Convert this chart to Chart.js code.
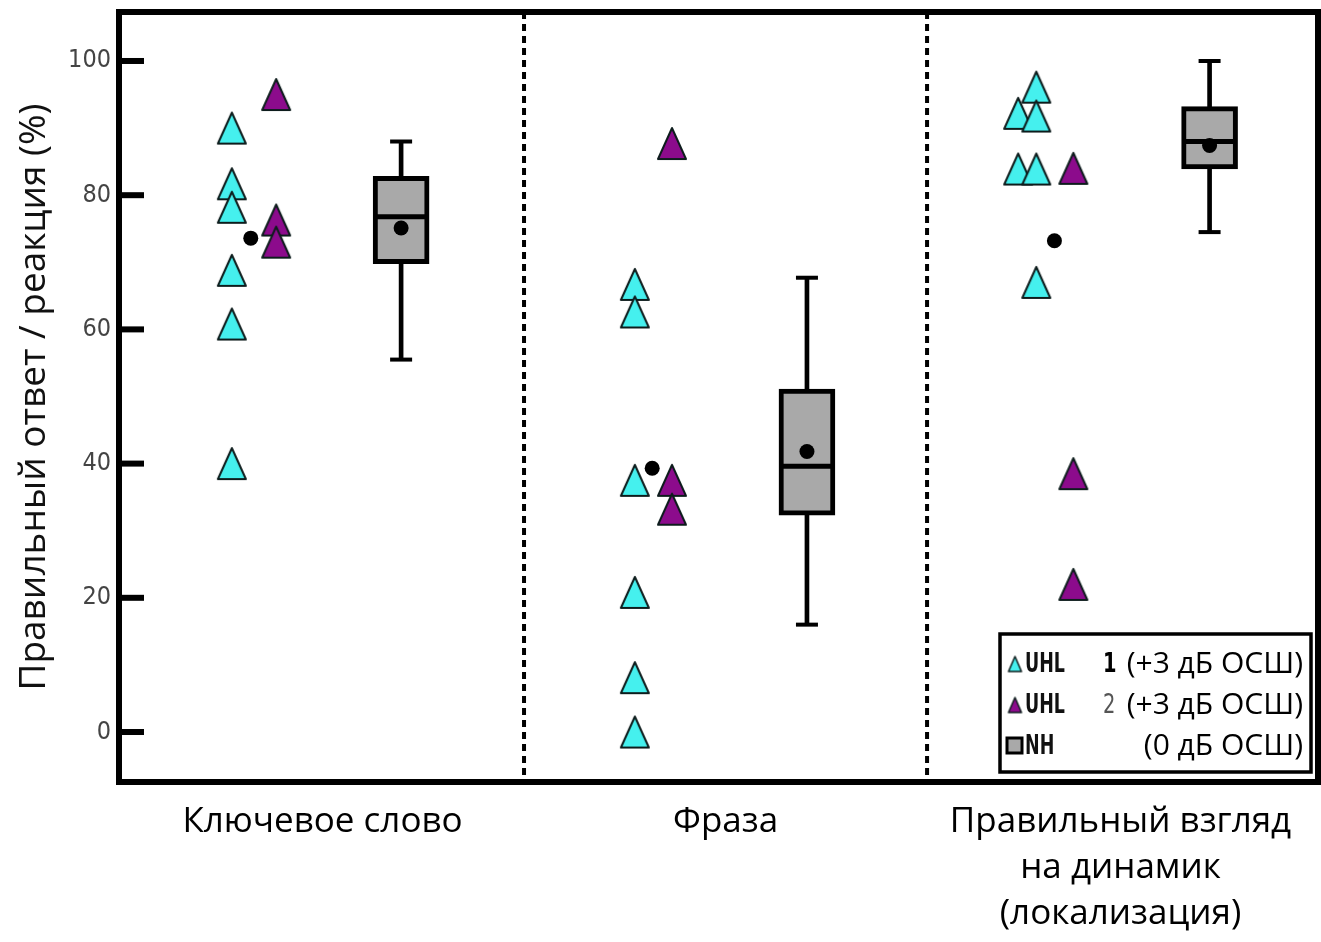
<!DOCTYPE html>
<html>
<head>
<meta charset="utf-8">
<script src="https://cdn.jsdelivr.net/npm/chart.js@4.4.0/dist/chart.umd.min.js"></script>
<style>
    html, body { margin: 0; padding: 0; background: #fff; }
    #wrap { width: 1321px; height: 942px; position: relative; }
</style>
</head>
<body>
<div id="wrap"><canvas id="myChart"></canvas></div>
<script>
    // categories and tick labels
    var categories = ['Ключевое слово', 'Фраза', ['Правильный взгляд', 'на динамик', '(локализация)']];
    var categoryPos = [0.5, 1.5, 2.48];
    var yTicks = [0, 20, 40, 60, 80, 100];
    var yTitle = 'Правильный ответ / реакция (%)';

    // UHL 1 (cyan triangles)
    var uhl1X = [0.275, 0.275, 0.275, 0.275, 0.275, 0.275,
                 1.275, 1.275, 1.275, 1.275, 1.275, 1.275,
                 2.271, 2.226, 2.271, 2.226, 2.271, 2.271];
    var uhl1Y = [90, 81.7, 78.2, 68.8, 60.8, 40,
                 66.7, 62.6, 37.5, 20.8, 8.1, 0,
                 96.1, 92.2, 91.8, 83.9, 83.9, 67];

    // UHL 2 (purple triangles)
    var uhl2X = [0.385, 0.385, 0.385, 1.367, 1.367, 1.367, 2.363, 2.363, 2.363];
    var uhl2Y = [95, 76.3, 73, 87.7, 37.5, 33.2, 84, 38.5, 22];

    // UHL mean dots
    var uhlMeanX = [0.322, 1.318, 2.316];
    var uhlMeanY = [73.6, 39.3, 73.2];

    // NH box plots
    var nhX = [0.695, 1.702, 2.701];
    var nhMin = [55.5, 16, 74.5];
    var nhQ1 = [69.8, 32.3, 83.9];
    var nhMedian = [76.8, 39.6, 88];
    var nhQ3 = [82.8, 51.1, 93.2];
    var nhMax = [88, 67.7, 100];
    var nhMean = [75.1, 41.8, 87.4];

    // legend
    var legendNames = ['UHL 1', 'UHL 2', 'NH'];
    var legendNotes = ['(+3 дБ ОСШ)', '(+3 дБ ОСШ)', '(0 дБ ОСШ)'];

    var cyan = '#45f0ee';
    var purple = '#8c0b8c';
    var boxGrey = '#a9a9a9';
    var narrowFont = "'Liberation Sans Narrow', 'DejaVu Sans Condensed', sans-serif";

    function pts(xs, ys) {
        return xs.map(function(x, i) { return { x: x, y: ys[i] }; });
    }

    function range(xs, lo, hi) {
        return xs.map(function(x, i) { return { x: x, y: [lo[i], hi[i]] }; });
    }

    function makeTriangle(fill, w, h, lw) {
        var m = 3;
        var c = document.createElement('canvas');
        c.width = w + 2 * m;
        c.height = h + 2 * m;
        var g = c.getContext('2d');
        g.beginPath();
        g.moveTo(m + w / 2, m);
        g.lineTo(m + w, m + h);
        g.lineTo(m, m + h);
        g.closePath();
        g.fillStyle = fill;
        g.fill();
        g.lineWidth = lw;
        g.lineJoin = 'round';
        g.strokeStyle = '#0d1c1c';
        g.stroke();
        return c;
    }

    var triCyan = makeTriangle(cyan, 28, 31, 2);
    var triPurple = makeTriangle(purple, 28, 31, 2);
    var triCyanSmall = makeTriangle(cyan, 13, 15, 1.5);
    var triPurpleSmall = makeTriangle(purple, 13, 15, 1.5);

    function narrowText(ctx, txt, x, y, font, sx) {
        ctx.save();
        ctx.translate(x, y);
        ctx.scale(sx, 1);
        ctx.font = font;
        ctx.fillText(txt, 0, 0);
        ctx.restore();
    }

    var framePlugin = {
        id: 'frame',
        beforeDatasetsDraw: function(chart) {
            var ctx = chart.ctx, ca = chart.chartArea, x = chart.scales.x;
            ctx.save();
            ctx.strokeStyle = '#000';
            ctx.lineWidth = 4;
            ctx.setLineDash([7, 5]);
            [1, 2].forEach(function(v) {
                var px = x.getPixelForValue(v);
                ctx.beginPath();
                ctx.moveTo(px, ca.top);
                ctx.lineTo(px, ca.bottom);
                ctx.stroke();
            });
            ctx.restore();
        },
        afterDraw: function(chart) {
            var ctx = chart.ctx, ca = chart.chartArea, y = chart.scales.y;
            ctx.save();
            // inward tick marks
            ctx.fillStyle = '#000';
            yTicks.forEach(function(v) {
                var py = y.getPixelForValue(v);
                ctx.fillRect(ca.left, py - 3, 23, 6);
            });
            // frame
            ctx.strokeStyle = '#000';
            ctx.lineWidth = 6;
            ctx.strokeRect(ca.left - 2, ca.top, ca.right - ca.left + 2, ca.bottom - ca.top);

            // legend
            var bx = ca.right - 318, by = ca.bottom - 148, bw = 311, bh = 138;
            ctx.fillStyle = '#fff';
            ctx.fillRect(bx, by, bw, bh);
            ctx.lineWidth = 3.5;
            ctx.strokeRect(bx, by, bw, bh);
            var markers = [triCyanSmall, triPurpleSmall, null];
            legendNames.forEach(function(name, i) {
                var ry = by + 30 + i * 41;
                if (markers[i]) {
                    ctx.drawImage(markers[i], bx + 15 - markers[i].width / 2, ry - markers[i].height / 2);
                } else {
                    ctx.fillStyle = boxGrey;
                    ctx.fillRect(bx + 7, ry - 8, 15, 15);
                    ctx.lineWidth = 3;
                    ctx.strokeStyle = '#000';
                    ctx.strokeRect(bx + 7, ry - 8, 15, 15);
                }
                var parts = name.split(' ');
                ctx.fillStyle = '#111';
                ctx.textBaseline = 'middle';
                ctx.textAlign = 'left';
                narrowText(ctx, parts[0], bx + 25, ry + 1, 'bold 27px ' + narrowFont, 0.72);
                if (parts[1]) {
                    ctx.fillStyle = i === 0 ? '#000' : '#555';
                    narrowText(ctx, parts[1], bx + 103, ry + 1, (i === 0 ? 'bold ' : '') + '27px ' + narrowFont, 0.8);
                }
                ctx.font = "30px 'Open Sans', sans-serif";
                ctx.textAlign = 'right';
                ctx.fillStyle = '#000';
                ctx.fillText(legendNotes[i], ca.right - 15, ry);
            });
            ctx.restore();
        }
    };

    const ctx = document.getElementById('myChart').getContext('2d');
    var myChart = new Chart(ctx, {
        type: 'scatter',
        data: {
            datasets: [{
                    type: 'bar',
                    label: 'whisker',
                    data: range(nhX, nhMin, nhMax),
                    backgroundColor: '#000',
                    barThickness: 4,
                    grouped: false,
                    order: 9
                },
                {
                    type: 'bar',
                    label: 'NH',
                    data: range(nhX, nhQ1, nhQ3),
                    backgroundColor: boxGrey,
                    borderColor: '#000',
                    borderWidth: 5,
                    borderSkipped: false,
                    barThickness: 56,
                    grouped: false,
                    order: 8
                },
                {
                    label: 'median',
                    data: pts(nhX, nhMedian),
                    pointStyle: 'line',
                    pointRadius: 27,
                    borderColor: '#000',
                    borderWidth: 5,
                    order: 7
                },
                {
                    label: 'caps',
                    data: pts(nhX, nhMin).concat(pts(nhX, nhMax)),
                    pointStyle: 'line',
                    pointRadius: 11,
                    borderColor: '#000',
                    borderWidth: 4,
                    order: 7
                },
                {
                    label: 'NH mean',
                    data: pts(nhX, nhMean),
                    pointStyle: 'circle',
                    pointRadius: 7.5,
                    backgroundColor: '#000',
                    borderWidth: 0,
                    order: 1
                },
                {
                    label: 'UHL 1',
                    data: pts(uhl1X, uhl1Y),
                    pointStyle: triCyan,
                    order: 3
                },
                {
                    label: 'UHL 2',
                    data: pts(uhl2X, uhl2Y),
                    pointStyle: triPurple,
                    order: 2
                },
                {
                    label: 'UHL mean',
                    data: pts(uhlMeanX, uhlMeanY),
                    pointStyle: 'circle',
                    pointRadius: 7.5,
                    backgroundColor: '#000',
                    borderWidth: 0,
                    order: 1
                }
            ]
        },
        options: {
            responsive: true,
            maintainAspectRatio: false,
            animation: false,
            events: [],
            layout: { autoPadding: false, padding: { top: 12, right: 3, left: 0, bottom: 0 } },
            plugins: {
                legend: { display: false },
                tooltip: { enabled: false }
            },
            scales: {
                x: {
                    type: 'linear',
                    min: 0,
                    max: 2.97,
                    offset: false,
                    grid: { display: false, drawTicks: false, offset: false },
                    border: { display: false },
                    afterBuildTicks: function(scale) {
                        scale.ticks = categoryPos.map(function(v) { return { value: v }; });
                    },
                    afterFit: function(scale) {
                        scale.height = 160;
                        scale.paddingLeft = 0;
                        scale.paddingRight = 0;
                    },
                    ticks: {
                        autoSkip: false,
                        maxRotation: 0,
                        padding: 17,
                        color: '#000',
                        font: { family: "'Open Sans', sans-serif", size: 35, lineHeight: 1.32 },
                        callback: function(value, index) {
                            return categories[index];
                        }
                    }
                },
                y: {
                    type: 'linear',
                    min: -7.45,
                    max: 107.3,
                    grid: { display: false, drawTicks: false },
                    border: { display: false },
                    afterBuildTicks: function(scale) {
                        scale.ticks = yTicks.map(function(v) { return { value: v }; });
                    },
                    afterFit: function(scale) {
                        scale.width = 121;
                        scale.paddingTop = 0;
                        scale.paddingBottom = 0;
                    },
                    title: {
                        display: true,
                        text: yTitle,
                        color: '#111',
                        font: { family: "'Open Sans', sans-serif", size: 37 },
                        padding: { top: 12, bottom: 0 }
                    },
                    ticks: {
                        padding: 10,
                        color: '#444',
                        font: { family: narrowFont, size: 25 }
                    }
                }
            }
        },
        plugins: [framePlugin]
    });
</script>
</body>
</html>
